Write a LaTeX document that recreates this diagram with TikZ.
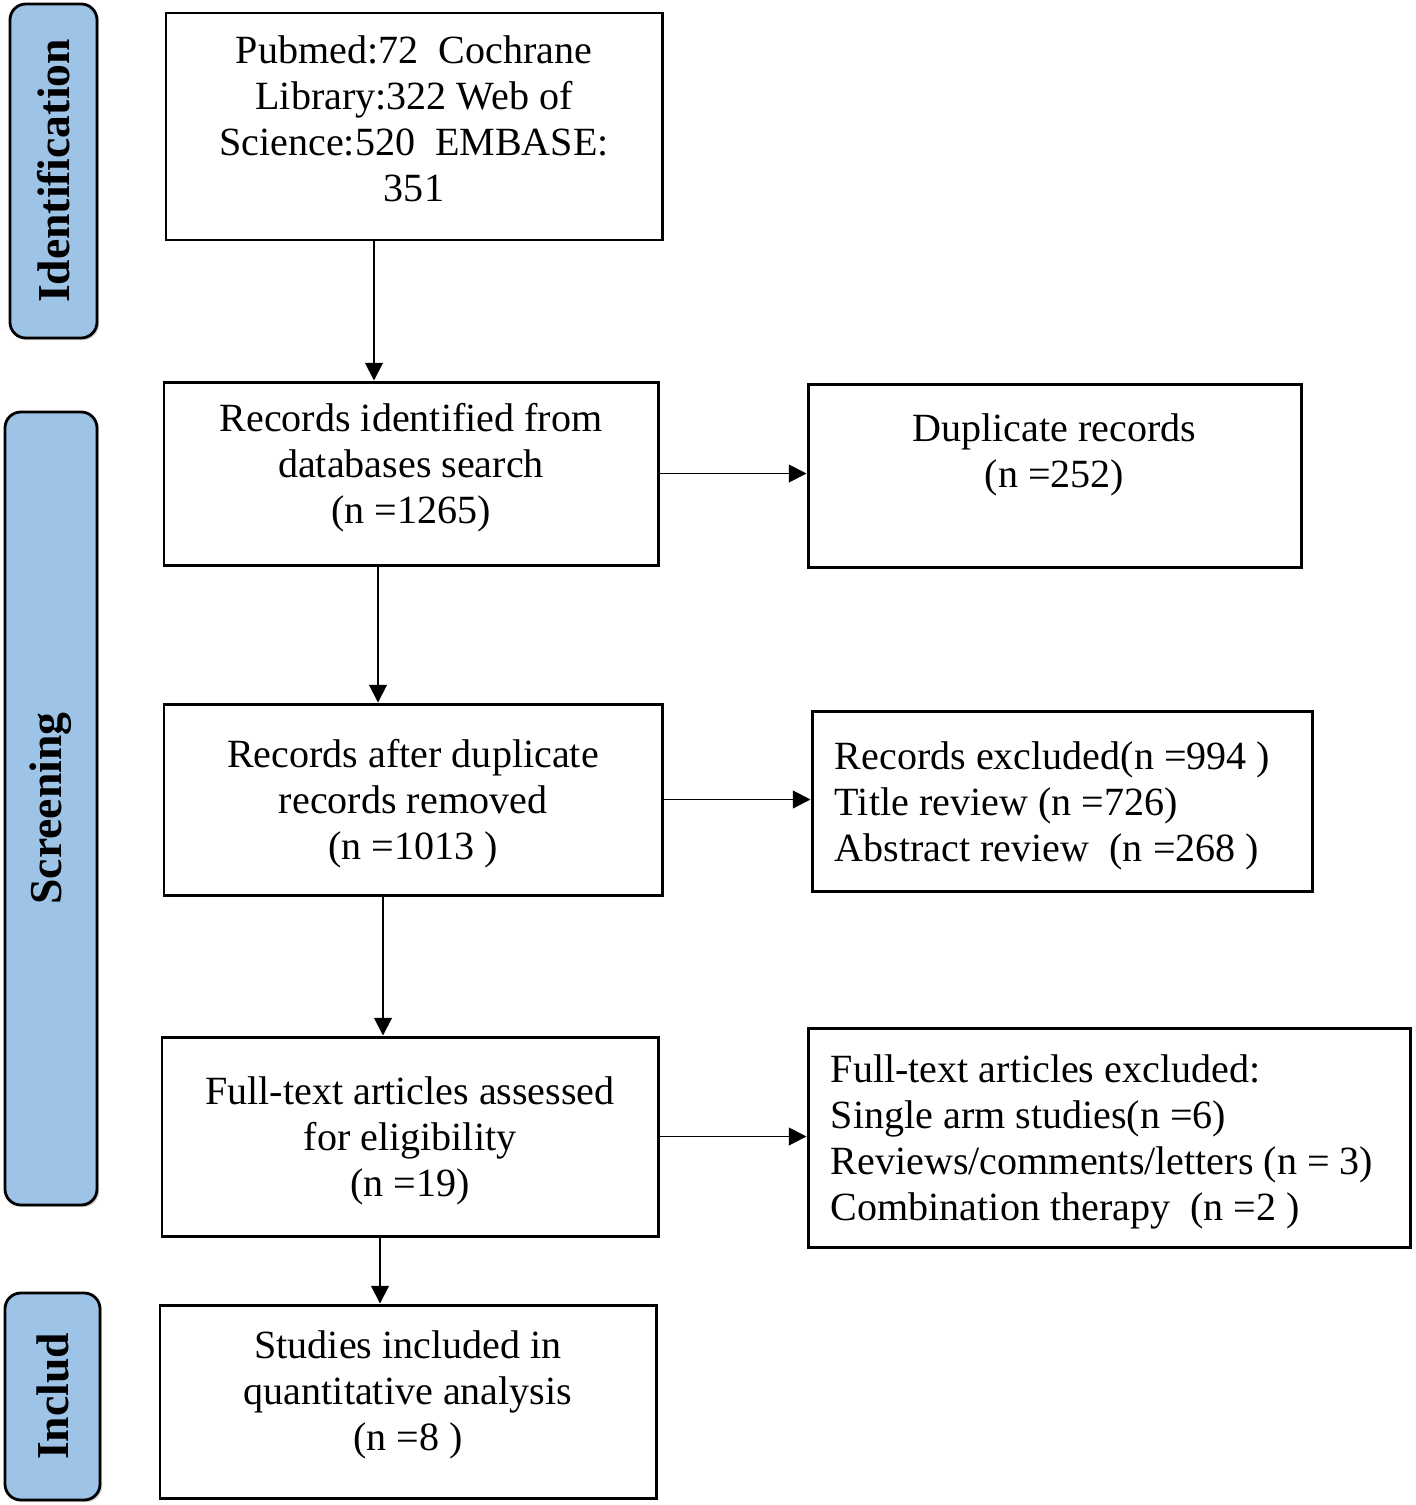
\documentclass[tikz,border=0pt]{standalone}
\usepackage{fontspec}
\setmainfont{Liberation Serif}
\usetikzlibrary{arrows.meta,fit,shadows}
\definecolor{sideblue}{RGB}{157,195,230}
\begin{document}
\begin{tikzpicture}[x=0.02cm,y=-0.02cm,
  box/.style={draw, line width=1.7pt, inner sep=0pt},
  txt/.style={inner sep=0pt, align=center, font=\fontsize{22.8pt}{26.2pt}\selectfont},
  ltxt/.style={txt, align=left, anchor=west, xshift=0.48cm},
  side/.style={draw, line width=1.6pt, rounded corners=9pt, fill=sideblue, inner sep=0pt,
    drop shadow={shadow xshift=1.2pt, shadow yshift=-1.2pt, opacity=0.35}},
  sidetext/.style={rotate=90, font=\bfseries\fontsize{26pt}{30pt}\selectfont},
  arr/.style={-{Triangle[length=10pt,width=10pt]}, line width=1.1pt}]
\useasboundingbox (0,0) rectangle (1416,1505);

% side labels
\node[side, fit={(10,4) (97,338)}, label={[sidetext]center:Identification}] (sid) {};
\node[side, fit={(5,412) (97,1205)}, label={[sidetext]center:Screening}] (sscr) {};
\node[side, fit={(5,1293) (100,1500)}, label={[sidetext]center:Includ}] (sinc) {};

% main boxes
\node[box, fit={(166,13) (662,240)},
  label={[txt, yshift=0.16cm]center:{Pubmed:72~~Cochrane\\Library:322 Web of\\Science:520~~EMBASE:\\351}}] (b1) {};
\node[box, fit={(164,382) (658,565)},
  label={[txt, yshift=0.12cm]center:{Records identified from\\databases search\\(n =1265)}}] (b2) {};
\node[box, fit={(808,384) (1301,567)},
  label={[txt, yshift=0.42cm]center:{Duplicate records\\(n =252)}}] (dup) {};
\node[box, fit={(164,704) (662,895)},
  label={[txt, yshift=-0.08cm]center:{Records after duplicate\\records removed\\(n =1013 )}}] (b3) {};
\node[box, fit={(812,711) (1312,891)},
  label={[ltxt, yshift=-0.10cm]west:{Records excluded(n =994 )\\Title review (n =726)\\Abstract review~~(n =268 )}}] (ex1) {};
\node[box, fit={(162,1037) (658,1236)},
  label={[txt, yshift=-0.08cm]center:{Full-text articles assessed\\for eligibility\\(n =19)}}] (b4) {};
\node[box, fit={(808,1028) (1410,1247)},
  label={[ltxt, yshift=-0.08cm]west:{Full-text articles excluded:\\Single arm studies(n =6)\\Reviews/comments/letters (n = 3)\\Combination therapy~~(n =2 )}}] (ex2) {};
\node[box, fit={(160,1305) (656,1498)},
  label={[txt, yshift=0.14cm]center:{Studies included in\\quantitative analysis\\(n =8 )}}] (b5) {};

% arrow x positions
\coordinate (a1) at (374,0);
\coordinate (a2) at (378,0);
\coordinate (a3) at (383,0);
\coordinate (a4) at (380,0);

\draw[arr] (b1.south -| a1) -- (b2.north -| a1);
\draw[arr] (b2.south -| a2) -- (b3.north -| a2);
\draw[arr] (b3.south -| a3) -- (b4.north -| a3);
\draw[arr] (b4.south -| a4) -- (b5.north -| a4);

\draw[arr] (b2.east) -- (dup.west |- b2.east);
\draw[arr] (b3.east) -- (ex1.west |- b3.east);
\draw[arr] (b4.east) -- (ex2.west |- b4.east);
\end{tikzpicture}
\end{document}
